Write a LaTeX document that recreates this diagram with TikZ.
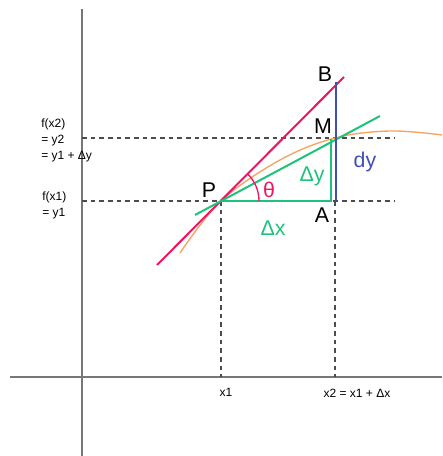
\documentclass[tikz,border=0pt]{standalone}
\usepackage{fontspec}
\setmainfont{Liberation Sans}
\usepackage{xcolor}
\usetikzlibrary{arrows.meta,positioning,calc}

\definecolor{tanred}{HTML}{EC1662}
\definecolor{secgreen}{HTML}{1EC27A}
\definecolor{dyblue}{HTML}{3F4FB5}
\definecolor{curveorange}{HTML}{F7A25E}
\definecolor{axisgray}{HTML}{777777}

\begin{document}
\begin{tikzpicture}[x=0.75pt,y=-0.75pt,
    axis/.style={draw=axisgray,line width=1.4pt},
    guide/.style={draw=black!70,dash pattern=on 3.5pt off 3pt,line width=0.8pt},
    tangent/.style={draw=tanred,line width=1.5pt},
    secant/.style={draw=secgreen,line width=1.5pt},
    rise/.style={draw=dyblue,line width=1.5pt},
    curve/.style={draw=curveorange,line width=1pt},
    big/.style={font=\fontsize{16}{18}\selectfont,inner sep=0pt},
    small/.style={font=\fontsize{9}{12}\selectfont,inner sep=0pt,align=left}
  ]
    \useasboundingbox (0,0) rectangle (442,456);
    % axes
    \coordinate (xl) at (10,377);
    \coordinate (xr) at (442,377);
    \coordinate (yt) at (82,9);
    \coordinate (yb) at (82,456);
    \draw[axis] (xl) -- (xr);
    \draw[axis] (yt) -- (yb);
    % points
    \coordinate (P) at (221,201);
    \coordinate (A) at (331,201);
    \coordinate (M) at (331,139);
    \coordinate (Ab) at (336,201);
    \coordinate (B) at (336,82);
    \coordinate (Ad) at (335,201);
    % guides
    \coordinate (y1l) at (82,201);
    \coordinate (y1r) at (395,201);
    \coordinate (y2l) at (82,138);
    \coordinate (y2r) at (395,138);
    \coordinate (x1b) at (221,377);
    \coordinate (x2b) at (335,377);
    \draw[guide] (y1l) -- (y1r);
    \draw[guide] (y2l) -- (y2r);
    \draw[guide] (P) -- (x1b);
    \draw[guide] (Ad) -- (x2b);
    % curve
    \draw[curve] plot[smooth,tension=0.6] coordinates
      {(180,253) (221,201) (280,160) (335,138) (390,131) (442,135)};
    % tangent and secant
    \coordinate (tlo) at (157,265);
    \coordinate (thi) at (344,77);
    \coordinate (slo) at (195,215);
    \coordinate (shi) at (380,116);
    \draw[tangent] (tlo) -- (thi);
    \draw[secant] (slo) -- (shi);
    \draw[secant] (P) -- (A) -- (M);
    \draw[rise] (Ab) -- (B);
    \draw[tanred,line width=1pt] ($(P)+(38,0)$) arc[start angle=0,end angle=-45,radius=38];
    % labels
    \node[big] (lB) at (325,74) {B};
    \node[big] (lM) at (323,126) {M};
    \node[big] (lA) at (322,215) {A};
    \node[big] (lP) at (209,190) {P};
    \node[big,text=tanred] (ltheta) at (269,190) {θ};
    \node[big,text=secgreen] (ldy) at (312,176) {Δy};
    \node[big,text=secgreen] (ldx) at (273,228) {Δx};
    \node[big,text=dyblue] (lrise) at (365,162) {dy};
    \node[small,anchor=north west] (lfx2) at (41,119) {f(x2)\\= y2\\= y1 + Δy};
    \node[small,anchor=north west] (lfx1) at (42,192) {f(x1)\\= y1};
    \node[small] (lx1) at (226,392) {x1};
    \node[small] (lx2) at (357,393) {x2 = x1 + Δx};
  \end{tikzpicture}
\end{document}
